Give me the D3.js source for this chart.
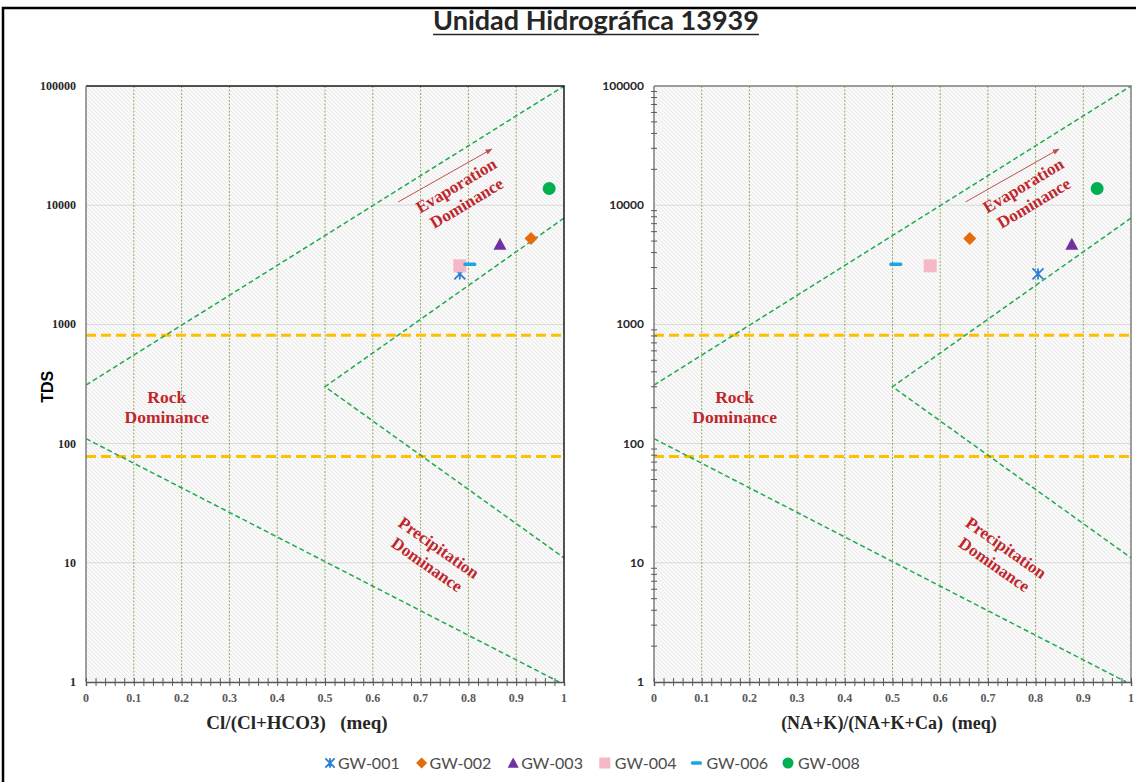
<!DOCTYPE html>
<html>
<head>
<meta charset="utf-8">
<script src="https://cdn.jsdelivr.net/npm/d3@7"></script>
<style>
  body { margin: 0; background: #fff; }
  text { white-space: pre; }
</style>
</head>
<body>
<div id="chart"></div>
<script>
'use strict';

// samples and their values
const samples = ['GW-001', 'GW-002', 'GW-003', 'GW-004', 'GW-006', 'GW-008'];
const sampleShapes = ['star', 'diamond', 'triangle', 'square', 'dash', 'circle'];
const sampleColors = ['#2a7fd4', '#e46c0a', '#7030a0', '#f5b8c6', '#1aa7e0', '#00b050'];
const clRatio = [0.782, 0.931, 0.866, 0.782, 0.803, 0.969];
const naRatio = [0.805, 0.662, 0.876, 0.579, 0.507, 0.929];
const tdsValues = [2650, 5250, 4700, 3100, 3200, 13800];

// Gibbs boundaries (ratio, TDS)
const gibbsUpper = [[0, 310], [1, 100000]];
const gibbsInner = [[1, 7800], [0.5, 300], [1, 11]];
const gibbsLower = [[0, 110], [0.99, 1]];
// yellow TDS limits
const tdsLimits = [810, 78];

const xTicks = d3.range(0, 11).map(d => d / 10);
const yTicks = [1, 10, 100, 1000, 10000, 100000];

const W = 1136, H = 782;
const plotTop = 86, plotBottom = 682;

let svg = d3.select('#chart').append('svg')
    .attr('width', W)
    .attr('height', H);

// hatch pattern for plot background
let defs = svg.append('defs');
let pat = defs.append('pattern')
    .attr('id', 'hatch')
    .attr('patternUnits', 'userSpaceOnUse')
    .attr('width', 4)
    .attr('height', 4);
pat.append('rect').attr('width', 4).attr('height', 4).attr('fill', '#f9f9f9');
pat.append('path')
    .attr('d', 'M-1,-1 L5,5 M-1,3 L1,5 M3,-1 L5,1')
    .attr('stroke', '#e6e6e6')
    .attr('stroke-width', 0.8);

defs.append('marker')
    .attr('id', 'arrow')
    .attr('viewBox', '0 0 10 10')
    .attr('refX', 9).attr('refY', 5)
    .attr('markerWidth', 7).attr('markerHeight', 7)
    .attr('orient', 'auto')
    .append('path')
    .attr('d', 'M0,1 L10,5 L0,9 Z')
    .attr('fill', '#c0504d');

// outer frame
svg.append('rect')
    .attr('x', 3).attr('y', 8)
    .attr('width', W + 10).attr('height', H + 10)
    .attr('fill', 'none')
    .attr('stroke', '#000')
    .attr('stroke-width', 2.5);

// title
let title = svg.append('text')
    .attr('x', 596).attr('y', 30)
    .attr('text-anchor', 'middle')
    .style('font-family', 'Lato, "Liberation Sans", sans-serif')
    .style('font-weight', 'bold')
    .style('font-size', '27px')
    .style('fill', '#262626')
    .text('Unidad Hidrográfica 13939');
let tb = title.node().getBBox();
svg.append('line')
    .attr('x1', tb.x).attr('x2', tb.x + tb.width)
    .attr('y1', 34.5).attr('y2', 34.5)
    .attr('stroke', '#262626')
    .attr('stroke-width', 1.6);

/**
 * Draw one marker shape centred at 0,0
 */
function drawMarker(sel, shape, color, s) {
    if (shape === 'star') {
        sel.append('path')
            .attr('d', 'M' + (-5.5 * s) + ',' + (-5.5 * s) + 'L' + (5.5 * s) + ',' + (5.5 * s) +
                'M' + (-5.5 * s) + ',' + (5.5 * s) + 'L' + (5.5 * s) + ',' + (-5.5 * s) +
                'M0,' + (-5.5 * s) + 'L0,' + (5.5 * s))
            .attr('stroke', color)
            .attr('stroke-width', 1.8)
            .attr('fill', 'none');
    } else if (shape === 'diamond') {
        sel.append('path')
            .attr('d', 'M0,' + (-6.5 * s) + 'L' + (6.5 * s) + ',0L0,' + (6.5 * s) + 'L' + (-6.5 * s) + ',0Z')
            .attr('fill', color);
    } else if (shape === 'triangle') {
        sel.append('path')
            .attr('d', 'M0,' + (-6.5 * s) + 'L' + (6.5 * s) + ',' + (5.5 * s) + 'L' + (-6.5 * s) + ',' + (5.5 * s) + 'Z')
            .attr('fill', color);
    } else if (shape === 'square') {
        sel.append('rect')
            .attr('x', -6.5 * s).attr('y', -6.5 * s)
            .attr('width', 13 * s).attr('height', 13 * s)
            .attr('fill', color);
    } else if (shape === 'dash') {
        sel.append('rect')
            .attr('x', -6.5 * s).attr('y', -1.8)
            .attr('width', 13 * s).attr('height', 3.6)
            .attr('rx', 1.5)
            .attr('fill', color);
    } else {
        sel.append('circle')
            .attr('r', 6.5 * s)
            .attr('fill', color);
    }
}

const redText = '#c0272d';

/**
 * Draw one Gibbs panel
 */
function drawPanel(cfg) {
    let x = d3.scaleLinear().domain([0, 1]).range([cfg.x0, cfg.x1]);
    let y = d3.scaleLog().domain([1, 100000]).range([plotBottom, plotTop]);
    let g = svg.append('g');

    // background
    g.append('rect')
        .attr('x', cfg.x0).attr('y', plotTop)
        .attr('width', cfg.x1 - cfg.x0).attr('height', plotBottom - plotTop)
        .attr('fill', 'url(#hatch)');

    // horizontal grid
    g.selectAll('.hgrid')
        .data(yTicks.slice(1, -1))
        .enter().append('line')
        .attr('x1', cfg.x0).attr('x2', cfg.x1)
        .attr('y1', d => y(d)).attr('y2', d => y(d))
        .attr('stroke', '#d9d9d9')
        .attr('stroke-width', 1);

    // vertical grid
    g.selectAll('.vgrid')
        .data(xTicks.slice(1, -1))
        .enter().append('line')
        .attr('x1', d => x(d)).attr('x2', d => x(d))
        .attr('y1', plotTop).attr('y2', plotBottom)
        .attr('stroke', '#9aaa60')
        .attr('stroke-dasharray', '2,1.5')
        .attr('stroke-width', 1);

    // yellow TDS limits
    g.selectAll('.limit')
        .data(tdsLimits)
        .enter().append('line')
        .attr('x1', cfg.x0).attr('x2', cfg.x1)
        .attr('y1', d => y(d)).attr('y2', d => y(d))
        .attr('stroke', '#ffc000')
        .attr('stroke-width', 3)
        .attr('stroke-dasharray', '10,5');

    // green Gibbs boundaries
    let line = d3.line().x(d => x(d[0])).y(d => y(d[1]));
    [gibbsUpper, gibbsInner, gibbsLower].forEach(function(b) {
        g.append('path')
            .attr('d', line(b))
            .attr('fill', 'none')
            .attr('stroke', '#1faa4f')
            .attr('stroke-width', 1.5)
            .attr('stroke-dasharray', '5,3');
    });

    // annotations
    let fontSerif = '"Liberation Serif", "Times New Roman", serif';
    function label(lines, px, py, angle, size) {
        let t = g.append('text')
            .attr('transform', 'translate(' + x(px) + ',' + y(py) + ') rotate(' + angle + ')')
            .attr('text-anchor', 'middle')
            .style('font-family', fontSerif)
            .style('font-weight', 'bold')
            .style('font-size', size + 'px')
            .style('fill', redText);
        lines.forEach(function(l, i) {
            t.append('tspan')
                .attr('x', 0)
                .attr('y', (i - (lines.length - 1) / 2) * 20.5 + size * 0.35)
                .text(l);
        });
    }
    label(['Evaporation', 'Dominance'], 0.785, 12400, -31, 17);
    label(['Rock', 'Dominance'], 0.169, 203, 0, 17.5);
    label(['Precipitation', 'Dominance'], 0.726, 11.4, 35, 17);

    g.append('line')
        .attr('x1', x(0.653)).attr('y1', y(10640))
        .attr('x2', x(0.849)).attr('y2', y(29600))
        .attr('stroke', '#c0504d')
        .attr('stroke-width', 1)
        .attr('marker-end', 'url(#arrow)');

    // plot frame
    g.append('path')
        .attr('d', 'M' + cfg.x0 + ',' + plotTop + 'H' + cfg.x1 + 'V' + plotBottom)
        .attr('fill', 'none')
        .attr('stroke', cfg.rightEdge)
        .attr('stroke-width', 1.5);
    g.append('line')
        .attr('x1', cfg.x0).attr('x2', cfg.x0)
        .attr('y1', plotTop).attr('y2', plotBottom)
        .attr('stroke', '#7f7f7f')
        .attr('stroke-width', 1.5);

    // y minor ticks (right panel only)
    if (cfg.minorY) {
        let minor = [];
        for (let e = 0; e < 5; e++) {
            for (let m = 2; m < 10; m++) minor.push(m * Math.pow(10, e));
        }
        g.selectAll('.ymin')
            .data(minor)
            .enter().append('line')
            .attr('x1', cfg.x0 - 3).attr('x2', cfg.x0 + 3)
            .attr('y1', d => y(d)).attr('y2', d => y(d))
            .attr('stroke', '#595959')
            .attr('stroke-width', 1);
    }

    // x axis
    let xAxis = d3.axisBottom(x)
        .tickValues(d3.range(0, 51).map(d => d / 50))
        .tickSize(4)
        .tickFormat('');
    let gx = g.append('g')
        .attr('transform', 'translate(0,' + plotBottom + ')')
        .call(xAxis);
    gx.select('.domain').attr('stroke', '#595959').attr('stroke-width', 1.5);
    gx.selectAll('.tick line').attr('y1', -4).attr('stroke', '#595959');

    g.selectAll('.xlab')
        .data(xTicks)
        .enter().append('text')
        .attr('x', d => x(d))
        .attr('y', plotBottom + 20)
        .attr('text-anchor', 'middle')
        .style('font-family', fontSerif)
        .style('font-weight', 'bold')
        .style('font-size', '12px')
        .style('fill', '#595959')
        .text(d => d3.format('')(d));

    // y labels
    g.selectAll('.ylab')
        .data(yTicks)
        .enter().append('text')
        .attr('x', cfg.x0 - 10)
        .attr('y', d => y(d) + 4)
        .attr('text-anchor', 'end')
        .style('font-family', cfg.yFont)
        .style('font-weight', 'bold')
        .style('font-size', '12px')
        .style('fill', '#262626')
        .text(d => d);

    // axis titles
    g.append('text')
        .attr('x', cfg.titleX)
        .attr('y', plotBottom + 47)
        .attr('text-anchor', 'middle')
        .style('font-family', fontSerif)
        .style('font-weight', 'bold')
        .style('font-size', cfg.titleSize + 'px')
        .style('fill', '#262626')
        .text(cfg.xTitle);
    if (cfg.yTitle) {
        g.append('text')
            .attr('transform', 'translate(53,' + y(300) + ') rotate(-90)')
            .attr('text-anchor', 'middle')
            .style('font-family', '"Liberation Sans", sans-serif')
            .style('font-weight', 'bold')
            .style('font-size', '16px')
            .style('fill', '#000')
            .text(cfg.yTitle);
    }

    // sample markers
    samples.forEach(function(s, i) {
        let m = g.append('g')
            .attr('transform', 'translate(' + x(cfg.xValues[i]) + ',' + y(tdsValues[i]) + ')');
        drawMarker(m, sampleShapes[i], sampleColors[i], 1);
    });
}

drawPanel({
    x0: 86, x1: 564, xValues: clRatio,
    xTitle: 'Cl/(Cl+HCO3)   (meq)', titleX: 297, titleSize: 19, yTitle: 'TDS',
    minorY: false, rightEdge: '#1a1a1a',
    yFont: '"Liberation Serif", serif'
});
drawPanel({
    x0: 654, x1: 1131, xValues: naRatio,
    xTitle: '(NA+K)/(NA+K+Ca)  (meq)', titleX: 889, titleSize: 18, yTitle: null,
    minorY: true, rightEdge: '#7f7f7f',
    yFont: 'Lato, "Liberation Sans", sans-serif'
});

// legend
let legend = svg.append('g')
    .attr('transform', 'translate(330,763)');
samples.forEach(function(s, i) {
    let item = legend.append('g')
        .attr('transform', 'translate(' + (i * 91.6) + ',0)');
    drawMarker(item, sampleShapes[i], sampleColors[i], 0.85);
    item.append('text')
        .attr('x', i < 3 ? 8 : 10)
        .attr('y', 5.5)
        .style('font-family', 'Lato, "Liberation Sans", sans-serif')
        .style('font-size', '16px')
        .style('fill', '#4d4d4d')
        .text(s);
});
</script>
</body>
</html>
